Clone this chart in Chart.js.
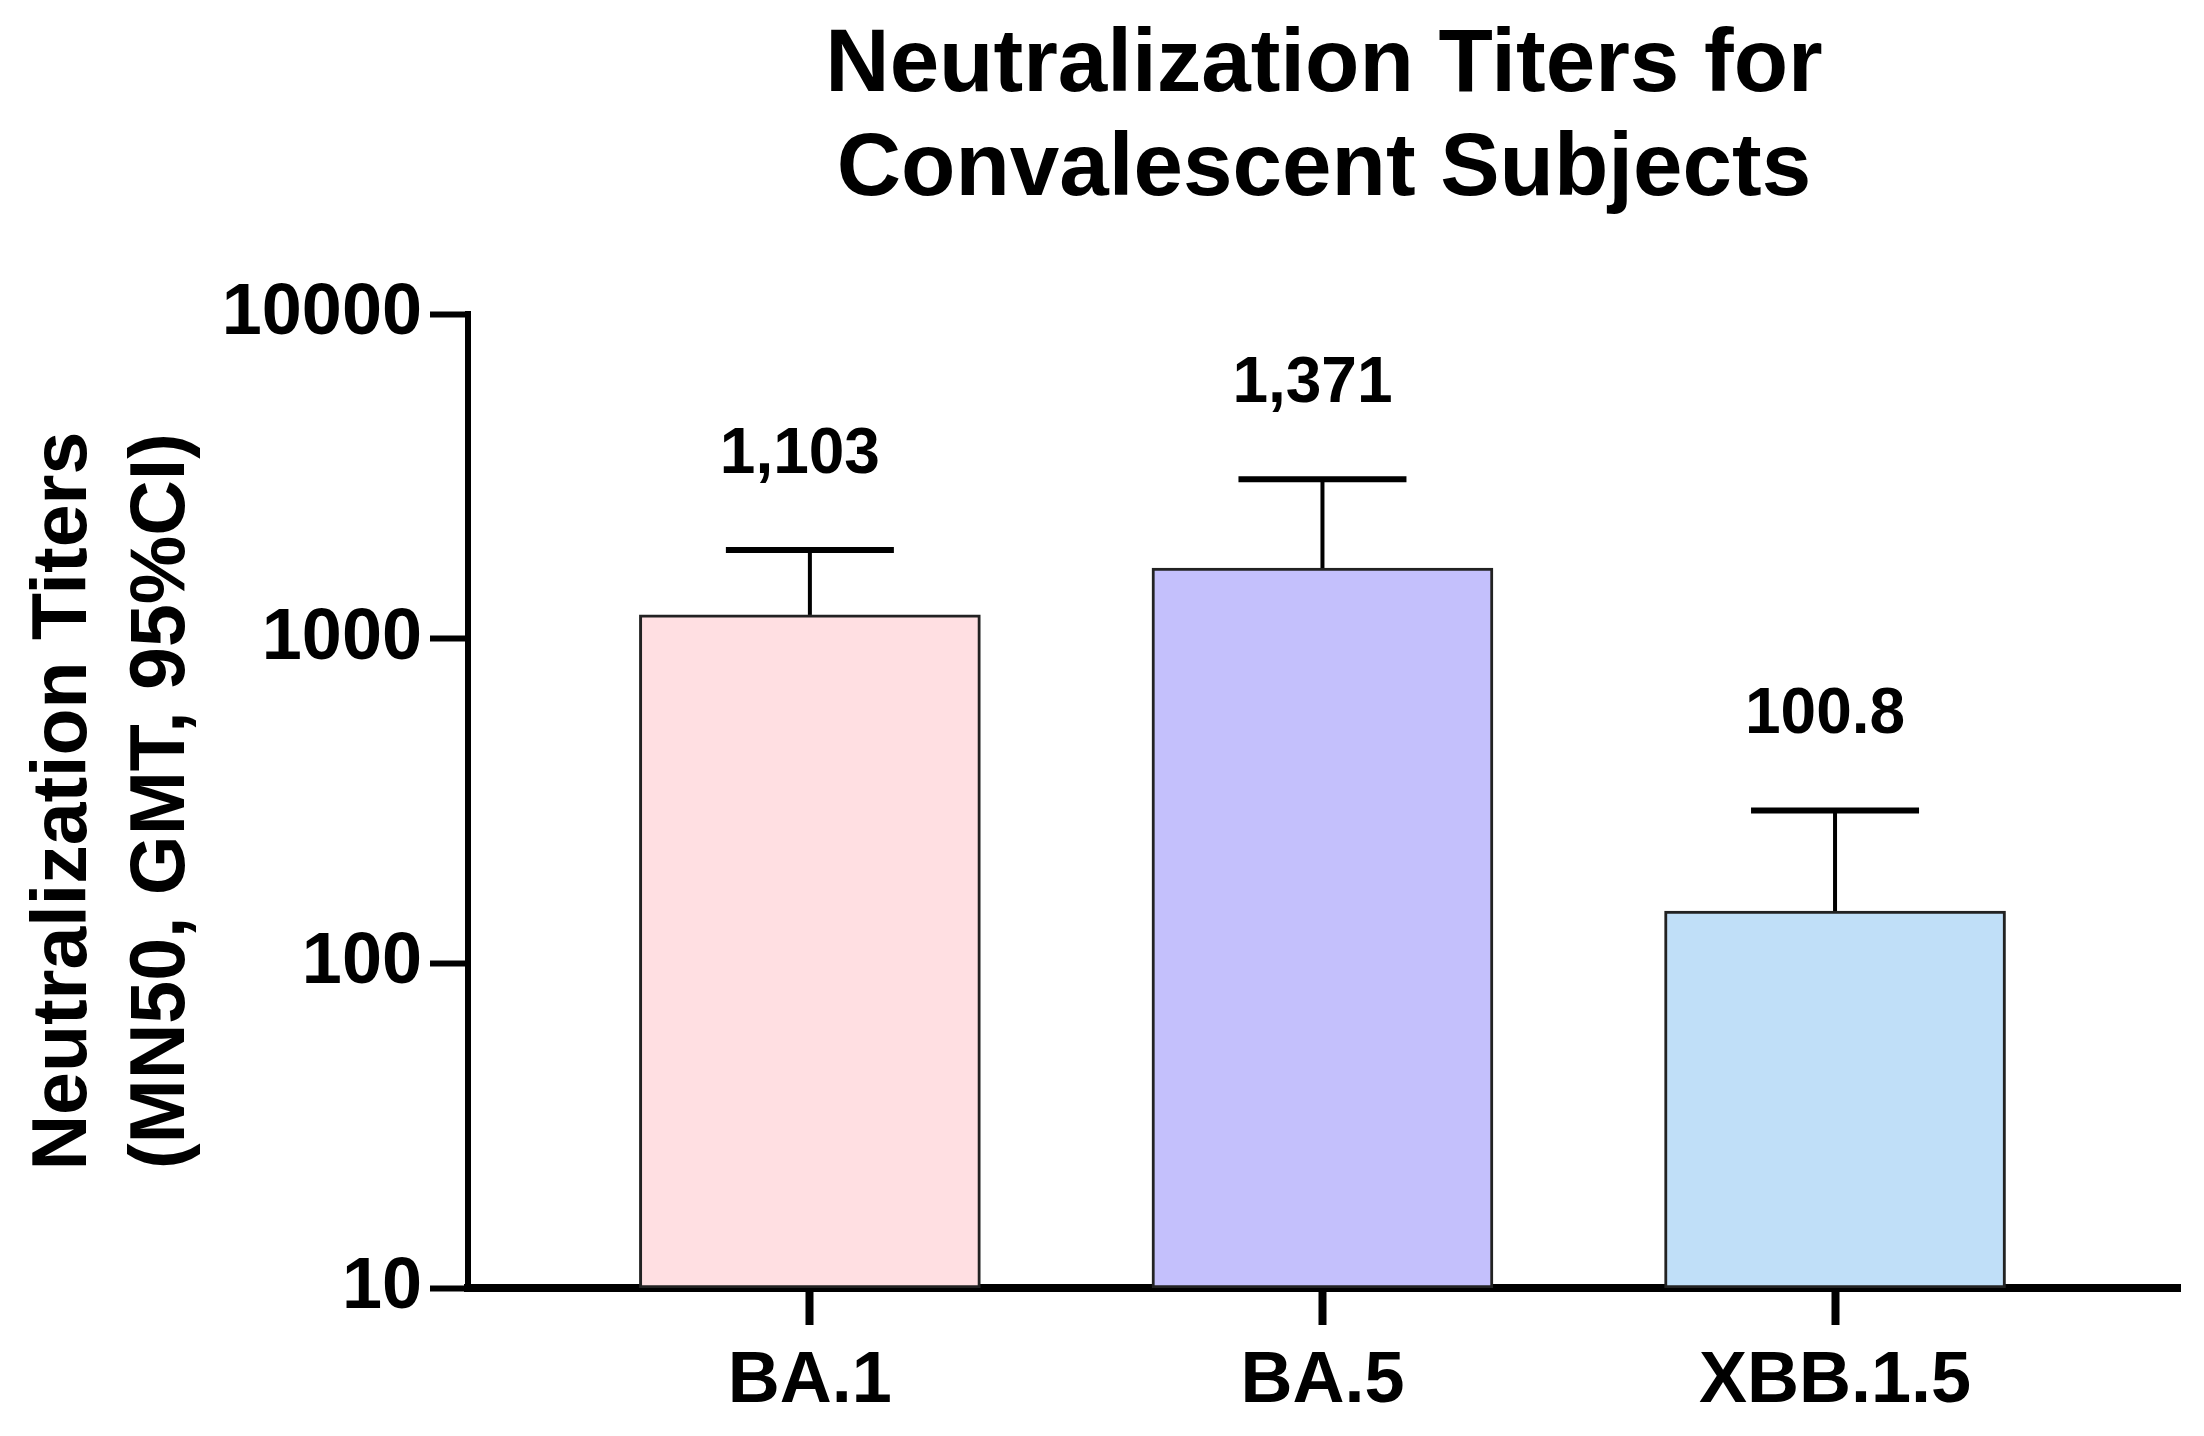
<!DOCTYPE html>
<html>
<head>
<meta charset="utf-8">
<script src="https://cdn.jsdelivr.net/npm/chart.js@4/dist/chart.umd.min.js"></script>
<style>
  html, body { margin: 0; padding: 0; background: #fff; }
  #wrap { width: 2204px; height: 1436px; }
</style>
</head>
<body>
<div id="wrap"><canvas id="myChart" width="2204" height="1436"></canvas></div>
<script>
var categories = ['BA.1', 'BA.5', 'XBB.1.5'];
var catIndex = [0, 1, 2];
var gmt = [1185, 1652, 145];
var upperCI = [1879, 3105, 296];
var gmtLabels = ['1,103', '1,371', '100.8'];
var yTicks = [10, 100, 1000, 10000];
var barColors = ['#FFDFE2', '#C4C0FC', '#C0DFF8'];

var fontFam = '"Liberation Sans", Arial, Helvetica, sans-serif';
Chart.defaults.font.family = fontFam;
Chart.defaults.color = '#000';

// error bars (upper 95% CI) and the GMT labels above them
var errorBars = {
    id: 'errorBars',
    afterDatasetsDraw: function (chart) {
        var ctx = chart.ctx;
        var xs = chart.scales.x, ys = chart.scales.y;
        ctx.save();
        ctx.strokeStyle = '#000';
        for (var i = 0; i < gmt.length; i++) {
            var cx = xs.getPixelForValue(catIndex[i]);
            var yBar = ys.getPixelForValue(gmt[i]);
            var yTop = ys.getPixelForValue(upperCI[i]);
            ctx.lineWidth = 4;
            ctx.beginPath();
            ctx.moveTo(cx, yBar);
            ctx.lineTo(cx, yTop);
            ctx.stroke();
            ctx.lineWidth = 6;
            ctx.beginPath();
            ctx.moveTo(cx - 84, yTop);
            ctx.lineTo(cx + 84, yTop);
            ctx.stroke();
            ctx.fillStyle = '#000';
            ctx.font = 'bold 64px ' + fontFam;
            ctx.textAlign = 'center';
            ctx.textBaseline = 'middle';
            ctx.fillText(gmtLabels[i], cx - 10, yTop - 95);
        }
        ctx.restore();
    }
};

var ctx = document.getElementById('myChart').getContext('2d');
var chart = new Chart(ctx, {
    type: 'bar',
    data: {
        datasets: [
            {
                data: catIndex.map(function (c, i) { return { x: c, y: gmt[i] }; }),
                backgroundColor: barColors,
                borderColor: '#222',
                borderWidth: 3,
                borderSkipped: false,
                barThickness: 341
            }
        ]
    },
    options: {
        responsive: false,
        animation: false,
        layout: { padding: { left: 0, right: 24, top: 0, bottom: 0 } },
        plugins: {
            legend: { display: false },
            tooltip: { enabled: false },
            title: {
                display: true,
                fullSize: false,
                text: ['Neutralization Titers for', 'Convalescent Subjects'],
                font: { size: 89, weight: 'bold', lineHeight: 1.17 },
                color: '#000',
                padding: { top: 14, bottom: 92 }
            }
        },
        scales: {
            x: {
                type: 'linear',
                offset: false,
                min: -0.667,
                max: 2.673,
                afterBuildTicks: function (s) { s.ticks = catIndex.map(function (v) { return { value: v }; }); },
                afterFit: function (s) { s.height = 1436 - 1288; },
                ticks: {
                    callback: function (v) { return categories[v]; },
                    font: { size: 72, weight: 'bold' },
                    padding: 14,
                    maxRotation: 0
                },
                grid: { offset: false, drawOnChartArea: false, drawTicks: true, tickLength: 37, tickWidth: 8, tickColor: '#000' },
                border: { display: true, color: '#000', width: 8 }
            },
            y: {
                type: 'logarithmic',
                min: 10,
                max: 10000,
                afterBuildTicks: function (s) { s.ticks = yTicks.map(function (v) { return { value: v }; }); },
                afterFit: function (s) { s.width = 468; },
                ticks: {
                    callback: function (v) { return String(v); },
                    font: { size: 72, weight: 'bold' },
                    padding: 8
                },
                grid: { drawOnChartArea: false, drawTicks: true, tickLength: 38, tickWidth: 6, tickColor: '#000' },
                border: { display: true, color: '#000', width: 6 },
                title: {
                    display: true,
                    text: ['Neutralization Titers', '(MN50, GMT, 95%CI)'],
                    font: { size: 77, weight: 'bold', lineHeight: 1.27 },
                    color: '#000',
                    padding: { top: 16, bottom: 0 }
                }
            }
        }
    },
    plugins: [errorBars]
});
</script>
</body>
</html>
